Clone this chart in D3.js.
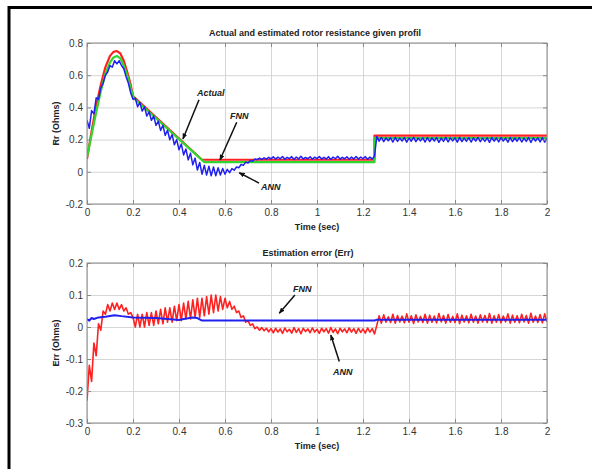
<!DOCTYPE html>
<html>
<head>
<meta charset="utf-8">
<script src="https://cdn.jsdelivr.net/npm/d3@7"></script>
<style>
  html, body { margin: 0; background: #fff; overflow: hidden; }
  svg { display: block; }
  svg text { font-family: "Liberation Sans", Arial, sans-serif; }
</style>
</head>
<body>
<svg width="592" height="469"></svg>
<script>
// ---------------- data ----------------
const xTicks = [0, 0.2, 0.4, 0.6, 0.8, 1, 1.2, 1.4, 1.6, 1.8, 2];
const xTickLabels = ["0", "0.2", "0.4", "0.6", "0.8", "1", "1.2", "1.4", "1.6", "1.8", "2"];
const rrTicks = [-0.2, 0, 0.2, 0.4, 0.6, 0.8];
const errTicks = [-0.3, -0.2, -0.1, 0, 0.1, 0.2];

// Actual rotor resistance (red)
const actualTime = [0, 0.02, 0.04, 0.06, 0.08, 0.1, 0.115, 0.13, 0.145, 0.16, 0.175, 0.19, 0.2, 0.5, 1.25, 1.25, 2];
const actualRr   = [0.08, 0.25, 0.41, 0.54, 0.65, 0.72, 0.745, 0.75, 0.735, 0.69, 0.62, 0.54, 0.47, 0.075, 0.075, 0.225, 0.225];

// FNN estimate (green)
const fnnTime = [0, 0.02, 0.04, 0.06, 0.08, 0.1, 0.115, 0.13, 0.145, 0.16, 0.175, 0.19, 0.205, 0.51, 1.25, 1.25, 2];
const fnnRr   = [0.09, 0.23, 0.37, 0.50, 0.61, 0.68, 0.71, 0.72, 0.705, 0.66, 0.60, 0.52, 0.455, 0.06, 0.06, 0.21, 0.21];

// ANN estimate (blue), one value every sampleStep seconds from 0 to 2
const sampleStep = 0.01;
const annRr = [
  0.32, 0.27, 0.38, 0.36, 0.46, 0.45, 0.52, 0.55, 0.60, 0.62, 0.66, 0.65, 0.69, 0.67, 0.69, 0.66, 0.64, 0.59, 0.55, 0.49, 0.45,
  0.457, 0.404, 0.430, 0.377, 0.404, 0.346, 0.373, 0.320, 0.346, 0.288, 0.315, 0.257, 0.289, 0.226, 0.258,
  0.199, 0.231, 0.168, 0.200, 0.137, 0.173, 0.105, 0.142, 0.074, 0.116, 0.043, 0.085, 0.011, 0.058, -0.015,
  0.04, -0.02, 0.035, -0.025, 0.03, -0.025, 0.025, -0.02, 0.02, -0.015, 0.015, -0.005, 0.02, 0.01, 0.03,
  0.025, 0.045, 0.04, 0.06, 0.055, 0.07, 0.065, 0.08, 0.075, 0.085, 0.077, 0.087, 0.079, 0.09, 0.08,
  0.093, 0.079, 0.091, 0.081, 0.095, 0.078, 0.090, 0.082, 0.094, 0.077,
  0.092, 0.080, 0.096, 0.079, 0.089, 0.081, 0.093, 0.078, 0.091, 0.082,
  0.095, 0.079, 0.090, 0.080, 0.094, 0.077, 0.092, 0.081, 0.096, 0.079,
  0.090, 0.081, 0.093, 0.078, 0.091, 0.080, 0.095, 0.079, 0.092, 0.081,
  0.094, 0.078, 0.091, 0.080, 0.097,
  0.220, 0.190, 0.213, 0.187, 0.210, 0.193, 0.211, 0.185, 0.213, 0.189,
  0.209, 0.191, 0.212, 0.184, 0.210, 0.190, 0.214, 0.187, 0.209, 0.192,
  0.211, 0.185, 0.213, 0.188, 0.210, 0.191, 0.212, 0.183, 0.209, 0.189,
  0.213, 0.186, 0.210, 0.192, 0.211, 0.184, 0.214, 0.188, 0.209, 0.190,
  0.212, 0.185, 0.210, 0.191, 0.213, 0.187, 0.209, 0.189, 0.211, 0.183,
  0.213, 0.190, 0.210, 0.186, 0.212, 0.191, 0.209, 0.184, 0.213, 0.188,
  0.210, 0.190, 0.212, 0.185, 0.209, 0.189, 0.213, 0.182, 0.210, 0.191,
  0.211, 0.186, 0.212, 0.184, 0.209
];

// FNN estimation error (blue, bottom)
const fnnErrTime = [0, 0.01, 0.02, 0.03, 0.05, 0.08, 0.12, 0.15, 0.2, 0.3, 0.35, 0.4, 0.42, 0.46, 0.48, 0.5, 1.25, 1.26, 2];
const fnnErr     = [0.025, 0.02, 0.028, 0.025, 0.03, 0.032, 0.037, 0.034, 0.03, 0.028, 0.025, 0.022, 0.025, 0.03, 0.028, 0.02, 0.02, 0.023, 0.023];

// ANN estimation error (red, bottom), same sampling as annRr
const annErr = [
  -0.23, -0.12, -0.17, -0.05, -0.09, 0.01, -0.01, 0.05, 0.04, 0.07, 0.05, 0.075, 0.055, 0.075, 0.055, 0.07, 0.05, 0.06, 0.04, 0.045, 0.03,
  0.0, 0.04, 0.0, 0.04, 0.0, 0.045, 0.005, 0.045, 0.005, 0.05, 0.01, 0.055, 0.01, 0.06, 0.015,
  0.06, 0.015, 0.065, 0.02, 0.07, 0.02, 0.075, 0.025, 0.08, 0.025, 0.085, 0.03, 0.09, 0.03, 0.09,
  0.035, 0.095, 0.04, 0.1, 0.045, 0.1, 0.05, 0.095, 0.055, 0.09, 0.06, 0.08, 0.055, 0.065, 0.045,
  0.05, 0.03, 0.035, 0.015, 0.02, 0.005, 0.01, -0.005, 0.0, -0.01, -0.002, -0.012, -0.004, -0.015, -0.005,
  -0.018, -0.004, -0.016, -0.006, -0.02, -0.003, -0.015, -0.007, -0.019, -0.002,
  -0.017, -0.005, -0.021, -0.004, -0.014, -0.006, -0.018, -0.003, -0.016, -0.007,
  -0.02, -0.004, -0.015, -0.005, -0.019, -0.002, -0.017, -0.006, -0.021, -0.004,
  -0.015, -0.006, -0.018, -0.003, -0.016, -0.005, -0.02, -0.004, -0.017, -0.006,
  -0.019, -0.003, -0.016, -0.005, -0.022,
  0.005, 0.035, 0.012, 0.038, 0.015, 0.032, 0.014, 0.040, 0.012, 0.036,
  0.016, 0.034, 0.013, 0.041, 0.015, 0.035, 0.011, 0.038, 0.016, 0.033,
  0.014, 0.040, 0.012, 0.037, 0.015, 0.034, 0.013, 0.042, 0.016, 0.036,
  0.012, 0.039, 0.015, 0.033, 0.014, 0.041, 0.011, 0.037, 0.016, 0.035,
  0.013, 0.040, 0.015, 0.034, 0.012, 0.038, 0.016, 0.036, 0.014, 0.042,
  0.012, 0.035, 0.015, 0.039, 0.013, 0.034, 0.016, 0.041, 0.012, 0.037,
  0.015, 0.035, 0.013, 0.040, 0.016, 0.036, 0.012, 0.043, 0.015, 0.034,
  0.014, 0.039, 0.013, 0.041, 0.016
];

// Arrow annotations, anchored in data units (text start, arrow tail, arrow tip)
const rrNotes = [
  { label: "Actual", t: 0.478, v: 0.47,  t1: 0.487, v1: 0.448, t2: 0.417, v2: 0.204 },
  { label: "FNN",    t: 0.622, v: 0.325, t1: 0.651, v1: 0.308, t2: 0.578, v2: 0.073 },
  { label: "ANN",    t: 0.757, v: -0.113, t1: 0.748, v1: -0.07, t2: 0.662, v2: -0.006 }
];
const errNotes = [
  { label: "FNN", t: 0.896, v: 0.11,  t1: 0.904, v1: 0.1,   t2: 0.836, v2: 0.043 },
  { label: "ANN", t: 1.07,  v: -0.15, t1: 1.097, v1: -0.108, t2: 1.06, v2: -0.025 }
];

// ---------------- drawing ----------------
const svg = d3.select("svg");

// outer black frame (right and bottom edges fall outside the picture)
svg.append("rect")
  .attr("x", 9).attr("y", 7.5)
  .attr("width", 620).attr("height", 520)
  .attr("fill", "none")
  .attr("stroke", "#000")
  .attr("stroke-width", 3);

// arrow head marker
svg.append("defs").append("marker")
  .attr("id", "head")
  .attr("viewBox", "0 0 10 8")
  .attr("refX", 9).attr("refY", 4)
  .attr("markerWidth", 6).attr("markerHeight", 5)
  .attr("markerUnits", "userSpaceOnUse")
  .attr("orient", "auto")
  .append("path")
  .attr("d", "M0,0 L10,4 L0,8 Z")
  .attr("fill", "#111");

const left = 87, right = 547;

function drawPanel(cfg) {
  const x = d3.scaleLinear().domain([0, 2]).range([left, right]);
  const y = d3.scaleLinear().domain(cfg.yDomain).range([cfg.bottom, cfg.top]);
  const g = svg.append("g");
  const h = cfg.bottom - cfg.top;

  // grid lines
  g.append("g")
    .attr("transform", `translate(0,${cfg.bottom})`)
    .call(d3.axisBottom(x).tickValues(xTicks).tickSize(-h).tickFormat(""))
    .call(a => a.select(".domain").remove())
    .selectAll("line").attr("stroke", "#d6d6d6");
  g.append("g")
    .attr("transform", `translate(${left},0)`)
    .call(d3.axisLeft(y).tickValues(cfg.yTicks).tickSize(-(right - left)).tickFormat(""))
    .call(a => a.select(".domain").remove())
    .selectAll("line").attr("stroke", "#d6d6d6");

  // clip region for the curves
  const clipId = "clip" + cfg.top;
  svg.append("clipPath").attr("id", clipId)
    .append("rect")
    .attr("x", left).attr("y", cfg.top)
    .attr("width", right - left).attr("height", h);

  const line = d3.line().x(d => x(d[0])).y(d => y(d[1]));
  const curves = g.append("g").attr("clip-path", `url(#${clipId})`);
  cfg.series.forEach(s => {
    curves.append("path")
      .datum(s.points)
      .attr("d", line)
      .attr("fill", "none")
      .attr("stroke", s.color)
      .attr("stroke-width", s.width)
      .attr("stroke-linejoin", "round");
  });

  // axes box
  g.append("rect")
    .attr("x", left).attr("y", cfg.top)
    .attr("width", right - left).attr("height", h)
    .attr("fill", "none")
    .attr("stroke", "#8a8a8a")
    .attr("stroke-width", 1);

  // ticks pointing inwards, labels on bottom and left
  const tickStyle = a => {
    a.select(".domain").remove();
    a.selectAll("line").attr("stroke", "#8a8a8a");
    a.selectAll("text").attr("fill", "#333").style("font-size", "10px");
  };
  g.append("g")
    .attr("transform", `translate(0,${cfg.bottom})`)
    .call(d3.axisBottom(x).tickValues(xTicks).tickFormat((d, i) => xTickLabels[i]).tickSize(-4).tickPadding(5))
    .call(tickStyle);
  g.append("g")
    .attr("transform", `translate(0,${cfg.top})`)
    .call(d3.axisTop(x).tickValues(xTicks).tickFormat("").tickSize(-4))
    .call(tickStyle);
  g.append("g")
    .attr("transform", `translate(${left},0)`)
    .call(d3.axisLeft(y).tickValues(cfg.yTicks).tickFormat(d => String(+d.toFixed(1))).tickSize(-4).tickPadding(4))
    .call(tickStyle);
  g.append("g")
    .attr("transform", `translate(${right},0)`)
    .call(d3.axisRight(y).tickValues(cfg.yTicks).tickFormat("").tickSize(-4))
    .call(tickStyle);

  // title and axis labels
  g.append("text")
    .attr("x", cfg.titleX).attr("y", cfg.top - 7)
    .attr("text-anchor", "middle")
    .style("font-size", "9px").style("font-weight", "bold")
    .attr("fill", "#222")
    .text(cfg.title);
  g.append("text")
    .attr("x", 317).attr("y", cfg.bottom + 26)
    .attr("text-anchor", "middle")
    .style("font-size", "9px").style("font-weight", "bold")
    .attr("fill", "#222")
    .text("Time (sec)");
  g.append("text")
    .attr("transform", `translate(59,${(cfg.top + cfg.bottom) / 2}) rotate(-90)`)
    .attr("text-anchor", "middle")
    .style("font-size", "9px").style("font-weight", "bold")
    .attr("fill", "#222")
    .text(cfg.yLabel);

  // arrow annotations
  cfg.notes.forEach(n => {
    g.append("line")
      .attr("x1", x(n.t1)).attr("y1", y(n.v1))
      .attr("x2", x(n.t2)).attr("y2", y(n.v2))
      .attr("stroke", "#111").attr("stroke-width", 1.5)
      .attr("marker-end", "url(#head)");
    g.append("text")
      .attr("x", x(n.t)).attr("y", y(n.v))
      .style("font-size", "9px").style("font-weight", "bold").style("font-style", "italic")
      .attr("fill", "#222")
      .text(n.label);
  });
}

// pair time values with series values
const zipPts = (ts, vs) => vs.map((v, i) => [ts[i], v]);
const sampled = vs => vs.map((v, i) => [i * sampleStep, v]);

drawPanel({
  top: 43, bottom: 204, yDomain: [-0.2, 0.8], yTicks: rrTicks,
  title: "Actual and estimated rotor resistance given profil", titleX: 315,
  yLabel: "Rr (Ohms)",
  series: [
    { points: zipPts(actualTime, actualRr), color: "#ff2020", width: 2.2 },
    { points: zipPts(fnnTime, fnnRr), color: "#2fd62f", width: 2.2 },
    { points: sampled(annRr), color: "#2020f0", width: 1.5 }
  ],
  notes: rrNotes
});

drawPanel({
  top: 263, bottom: 423, yDomain: [-0.3, 0.2], yTicks: errTicks,
  title: "Estimation error (Err)", titleX: 308,
  yLabel: "Err (Ohms)",
  series: [
    { points: sampled(annErr), color: "#ff2020", width: 1.6 },
    { points: zipPts(fnnErrTime, fnnErr), color: "#2020f0", width: 2 }
  ],
  notes: errNotes
});
</script>
</body>
</html>
